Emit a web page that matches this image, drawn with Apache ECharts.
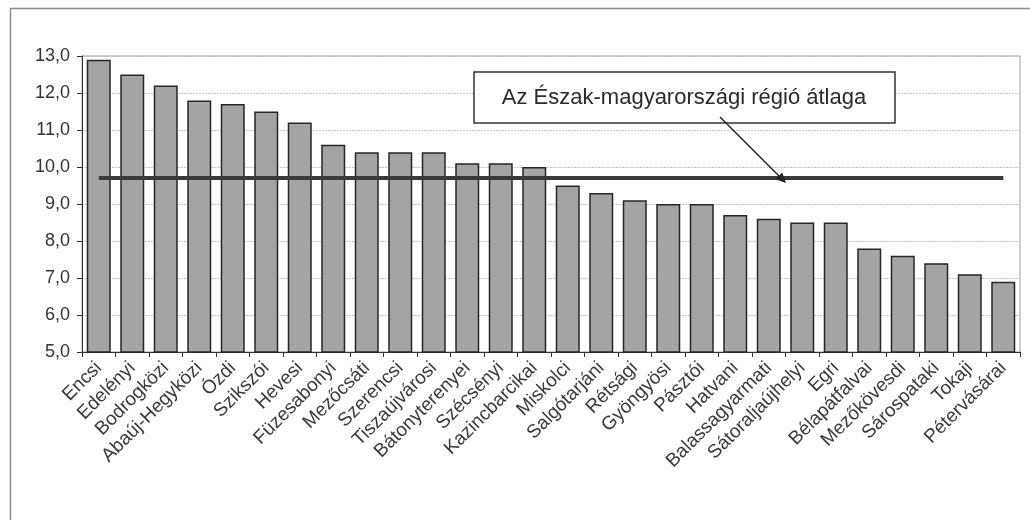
<!DOCTYPE html>
<html>
<head>
<meta charset="utf-8">
<script src="https://cdn.jsdelivr.net/npm/echarts@6/dist/echarts.min.js"></script>
<style>
  html, body { margin: 0; padding: 0; background: #fff; }
  #chart { width: 1030px; height: 520px; }
</style>
</head>
<body>
<div id="chart"></div>
<script>
// kistérségek
const categories = [
  "Encsi", "Edelényi", "Bodrogközi", "Abaúj-Hegyközi", "Ózdi", "Szikszói",
  "Hevesi", "Füzesabonyi", "Mezőcsáti", "Szerencsi", "Tiszaújvárosi",
  "Bátonyterenyei", "Szécsényi", "Kazincbarcikai", "Miskolci", "Salgótarjáni",
  "Rétsági", "Gyöngyösi", "Pásztói", "Hatvani", "Balassagyarmati",
  "Sátoraljaújhelyi", "Egri", "Bélapátfalvai", "Mezőkövesdi", "Sárospataki",
  "Tokaji", "Pétervásárai"
];
const values = [
  12.9, 12.5, 12.2, 11.8, 11.7, 11.5, 11.2, 10.6, 10.4, 10.4, 10.4,
  10.1, 10.1, 10.0, 9.5, 9.3, 9.1, 9.0, 9.0, 8.7, 8.6,
  8.5, 8.5, 7.8, 7.6, 7.4, 7.1, 6.9
];
const regionAvg = 9.7;
const avgLabel = "Az Észak-magyarországi régió átlaga";
const yMin = 5, yMax = 13, yStep = 1;

const font = '"Liberation Sans", Arial, sans-serif';

var chart = echarts.init(document.getElementById("chart"));
var option = {
  animation: false,
  backgroundColor: "#fff",
  grid: {
    left: 82,
    right: 10,
    top: 56,
    bottom: 168,
    show: true,
    borderColor: "#a0a0a0",
    borderWidth: 1,
    outerBoundsMode: "none",
  },
  xAxis: {
    type: "category",
    data: categories,
    axisLine: { lineStyle: { color: "#333", width: 1 } },
    axisTick: { show: true, length: 5, lineStyle: { color: "#333" } },
    axisLabel: {
      interval: 0,
      rotate: 45,
      fontSize: 19,
      color: "#3a3a3a",
      fontFamily: font,
      margin: 13,
    },
  },
  yAxis: {
    type: "value",
    min: yMin,
    max: yMax,
    interval: yStep,
    axisLine: { show: true, lineStyle: { color: "#333", width: 1 } },
    axisTick: { show: true, length: 5, lineStyle: { color: "#333" } },
    axisLabel: {
      fontSize: 18,
      color: "#333",
      fontFamily: font,
      margin: 12,
      formatter: function (v) {
        return v.toFixed(1).replace(".", ",");
      },
    },
    splitLine: {
      show: true,
      lineStyle: { color: "#c4c4c4", width: 1, type: [2, 1] },
    },
  },
  series: [
    {
      type: "bar",
      data: values,
      barWidth: 24,
      itemStyle: {
        color: "#a4a4a4",
        borderColor: "#262626",
        borderWidth: 1.5,
      },
      markLine: {
        silent: true,
        symbol: "none",
        label: { show: false },
        lineStyle: { color: "#3a3a3a", width: 4, type: "solid" },
        data: [
          [
            { coord: [0, regionAvg] },
            { coord: [categories.length - 1, regionAvg] },
          ],
        ],
      },
    },
  ],
  graphic: [
    // külső keret
    {
      type: "rect",
      left: 8,
      top: 6,
      shape: { width: 1060, height: 560 },
      style: { fill: null, stroke: "#8c8c8c", lineWidth: 1.5 },
      silent: true,
      z: 0,
    },
    // átlag felirat doboz
    {
      type: "rect",
      shape: { x: 474, y: 72, width: 421, height: 51 },
      style: { fill: "#fff", stroke: "#333", lineWidth: 1.5 },
      z: 10,
    },
    {
      type: "text",
      x: 684,
      y: 98,
      style: {
        text: avgLabel,
        fontSize: 22,
        fontFamily: font,
        fill: "#2a2a2a",
        align: "center",
        verticalAlign: "middle",
      },
      z: 11,
    },
    // nyíl
    {
      type: "line",
      shape: { x1: 720, y1: 117, x2: 780, y2: 177 },
      style: { stroke: "#222", lineWidth: 1.5 },
      z: 12,
    },
    {
      type: "polygon",
      shape: { points: [[786, 183], [775.5, 179.2], [782.2, 172.5]] },
      style: { fill: "#222" },
      z: 12,
    },
  ],
};
option && chart.setOption(option, true);
</script>
</body>
</html>
